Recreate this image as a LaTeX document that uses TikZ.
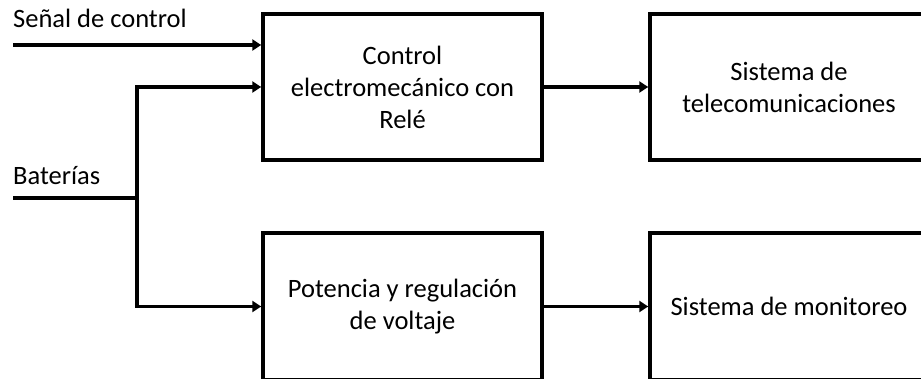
\documentclass[tikz,border=0pt]{standalone}
\usepackage{fontspec}
\setmainfont{Carlito}
\usetikzlibrary{arrows.meta}
\begin{document}
\begin{tikzpicture}[x=1pt,y=-1pt,
  box/.style={draw=black,line width=3.5pt,align=center,inner sep=0pt,
    font=\fontsize{26.5}{32}\selectfont},
  lbl/.style={inner sep=0pt,font=\fontsize{26.5}{32}\selectfont},
  wire/.style={line width=3.5pt},
  arr/.style={line width=3.5pt,-{Triangle[length=9pt,width=11pt]}}]
\useasboundingbox[fill=white] (0,0) rectangle (921,379);
\node[box,minimum width=279pt,minimum height=146pt] (b1) at (402.5,87)
  {Control\\electromecánico con\\Relé};
\node[box,minimum width=278pt,minimum height=146pt] (b2) at (789,87)
  {Sistema de\\telecomunicaciones};
\node[box,minimum width=279pt,minimum height=147pt] (b3) at (402.5,306.5)
  {Potencia y regulación\\de voltaje};
\node[box,minimum width=278pt,minimum height=147pt] (b4) at (789,306.5)
  {Sistema de monitoreo};
\node[lbl,anchor=base west] (ls) at (13,28) {Señal de control};
\node[lbl,anchor=base west] (lb) at (13,185) {Baterías};
\coordinate (s) at (13,45);
\coordinate (bat) at (13,198);
\coordinate (j) at (137,198);
\draw[arr] (s) -- (s -| b1.west);
\draw[wire] (bat) -- (j);
\draw[arr] (j) |- (b1.west);
\draw[arr] (j) |- (b3.west);
\draw[arr] (b1.east) -- (b2.west);
\draw[arr] (b3.east) -- (b4.west);
\end{tikzpicture}
\end{document}
